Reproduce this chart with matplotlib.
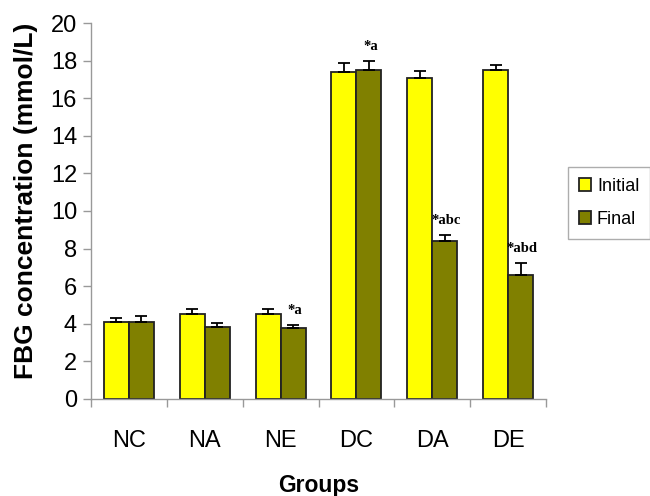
import matplotlib
matplotlib.use("Agg")
import matplotlib.pyplot as plt
import numpy as np

groups = ["NC", "NA", "NE", "DC", "DA", "DE"]
initial = [4.1, 4.5, 4.5, 17.4, 17.1, 17.5]
initial_err = [0.2, 0.3, 0.3, 0.48, 0.35, 0.28]
final = [4.1, 3.85, 3.75, 17.5, 8.4, 6.6]
final_err = [0.3, 0.2, 0.18, 0.46, 0.32, 0.62]
final_marks = ["", "", "*a", "*a", "*abc", "*abd"]

sans = "Liberation Sans"

fig = plt.figure(figsize=(6.5, 4.96), dpi=100)
ax = fig.add_axes([0.14, 0.1956, 0.70, 0.7580])

x = np.arange(len(groups))
w = 0.33
ekw = dict(elinewidth=1.3, capthick=1.3, ecolor="black")
ax.bar(x - w / 2, initial, w, color="#FFFF00", edgecolor="#222222", linewidth=1.3,
       yerr=[np.zeros(len(x)), initial_err], capsize=4, error_kw=ekw, label="Initial", zorder=2)
ax.bar(x + w / 2, final, w, color="#808000", edgecolor="#222222", linewidth=1.3,
       yerr=[np.zeros(len(x)), final_err], capsize=4, error_kw=ekw, label="Final", zorder=2)

for xi, v, e, m in zip(x, final, final_err, final_marks):
    if m:
        ax.text(xi + w / 2 + 0.02, v + e + 0.45, m, ha="center", va="bottom",
                fontsize=10.5, fontweight="bold", family="Liberation Serif")

ax.set_xlim(-0.5, len(groups) - 0.5)
ax.set_ylim(0, 20)
ax.set_yticks(np.arange(0, 21, 2))
ax.set_yticklabels([str(v) for v in range(0, 21, 2)], family=sans, fontsize=17)
ax.set_xticks(x)
ax.set_xticklabels(groups, family=sans, fontsize=17)
ax.set_xticks(np.arange(-0.5, len(groups), 1), minor=True)
ax.tick_params(axis="x", which="major", length=0, pad=22)
ax.tick_params(axis="x", which="minor", length=6, color="#999999", width=1)
ax.tick_params(axis="y", length=6, color="#999999", width=1, pad=4)

for s in ("top", "right"):
    ax.spines[s].set_visible(False)
for s in ("left", "bottom"):
    ax.spines[s].set_color("#999999")
    ax.spines[s].set_linewidth(1)

ax.set_ylabel("FBG concentration (mmol/L)", fontsize=19,
              fontweight="bold", family=sans)
ax.yaxis.set_label_coords(-(91 - 38) / 455, 0.527)
ax.set_xlabel("Groups", fontsize=16.5, fontweight="bold", family=sans)
ax.xaxis.set_label_coords(0.5, -(474 - 399) / 376)

leg = fig.legend(loc="upper left", bbox_to_anchor=(568 / 650, 1 - 167 / 496),
                 prop={"family": sans, "size": 13}, frameon=True, fancybox=False,
                 handlelength=0.7, handleheight=0.7, handletextpad=0.3,
                 borderpad=0.6, labelspacing=0.9, borderaxespad=0)
leg.get_frame().set_edgecolor("#999999")
leg.get_frame().set_linewidth(1)

fig.savefig("out.png", dpi=100)
